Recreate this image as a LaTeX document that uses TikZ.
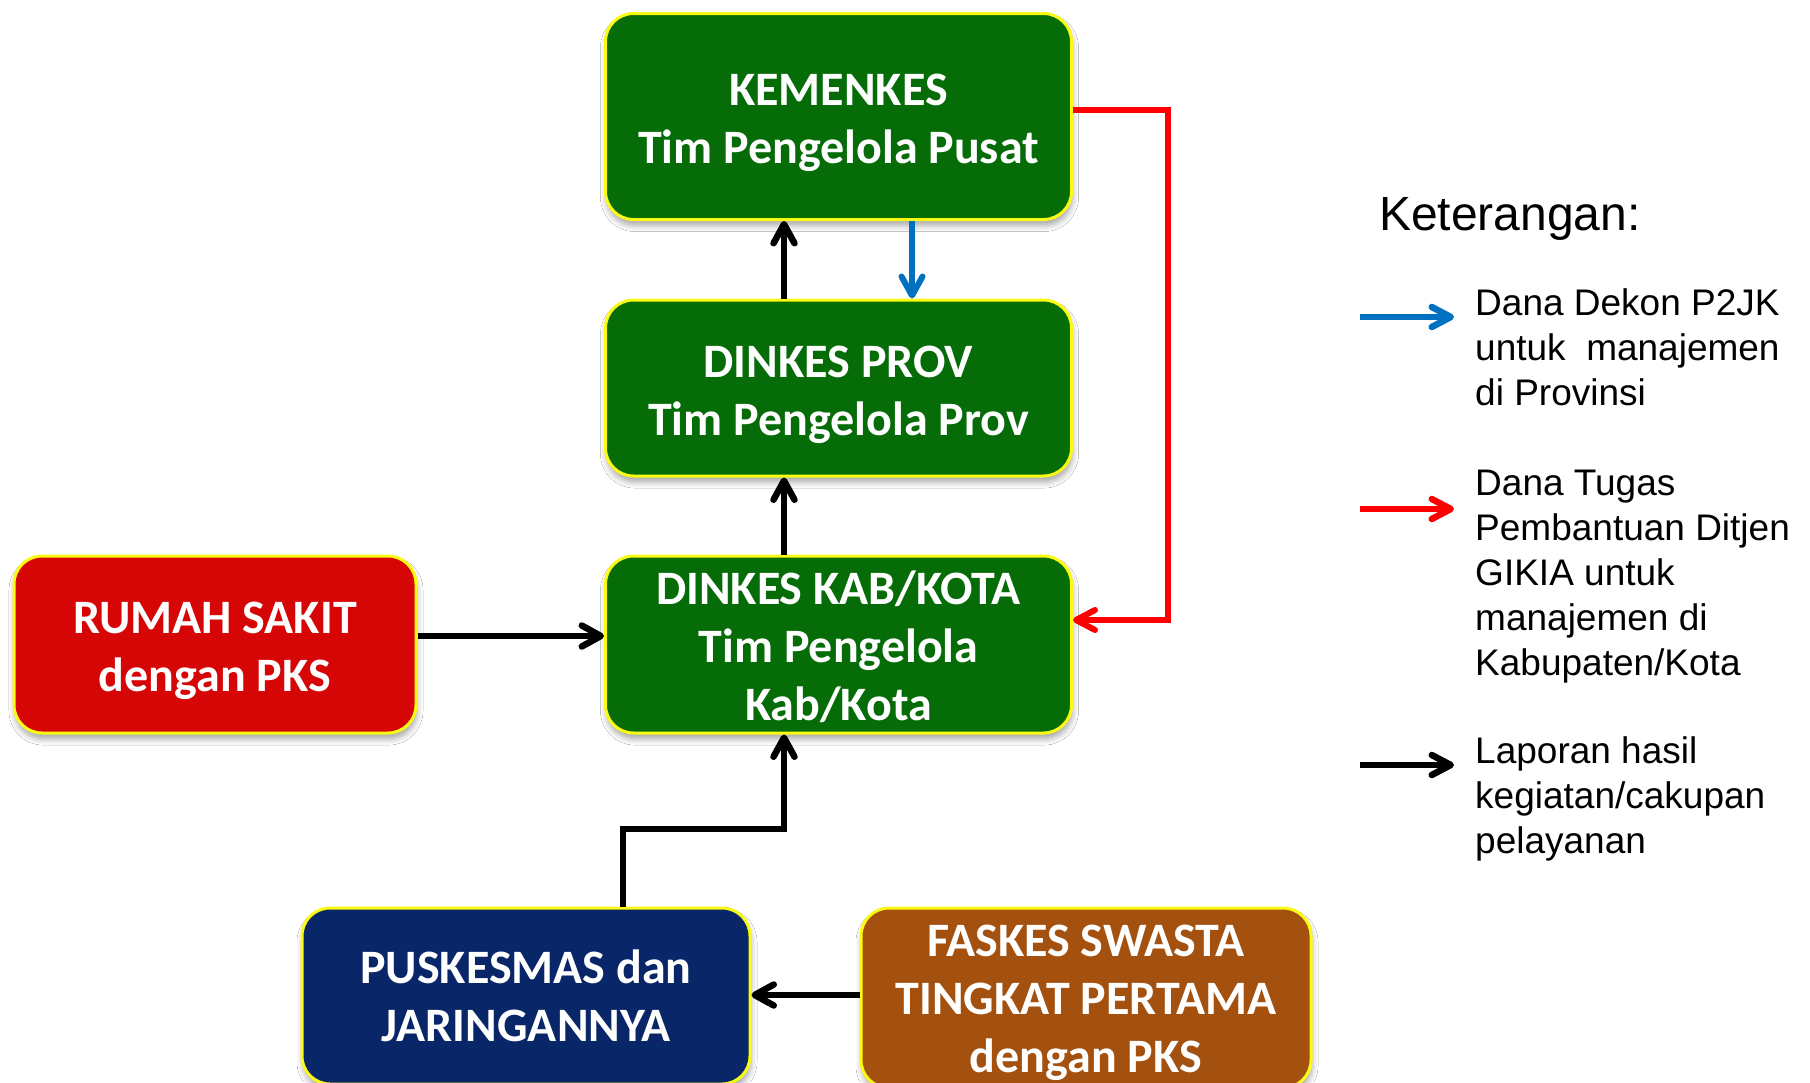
\documentclass[tikz,border=0pt]{standalone}
\usepackage{fontspec}
\setmainfont{Carlito}
\newfontfamily\legfont{Liberation Sans}
\usetikzlibrary{arrows.meta,shadows.blur,calc}
\definecolor{boxgreen}{RGB}{6,108,8}
\definecolor{boxred}{RGB}{214,6,6}
\definecolor{boxblue}{RGB}{8,38,104}
\definecolor{boxbrown}{RGB}{164,80,14}
\definecolor{edgeyellow}{RGB}{250,250,20}
\definecolor{arrowblue}{RGB}{0,112,192}
\definecolor{arrowred}{RGB}{255,0,0}
\begin{document}
\begin{tikzpicture}[x=1pt,y=-1pt,
  unit/.style={draw=edgeyellow, line width=3pt, rounded corners=28pt, inner sep=0pt,
    blur shadow={shadow xshift=1pt, shadow yshift=-6pt, shadow blur radius=6pt, shadow opacity=35}},
  unittext/.style={text=white, font=\fontsize{48}{58}\selectfont\bfseries, align=center, inner sep=0pt},
  report/.style={line width=6.5pt, draw=black, -{Straight Barb[round,length=19pt,width=21pt]}},
  dekon/.style={line width=6pt, draw=arrowblue, -{Straight Barb[round,length=19pt,width=21pt]}},
  tugas/.style={line width=6pt, draw=arrowred, -{Straight Barb[round,length=19pt,width=20pt]}},
  legreport/.style={line width=6.5pt, draw=black, -{Straight Barb[round,length=19pt,width=20pt]}},
  legdekon/.style={line width=6.5pt, draw=arrowblue, -{Straight Barb[round,length=19pt,width=20pt]}},
  legtugas/.style={line width=6.5pt, draw=arrowred, -{Straight Barb[round,length=19pt,width=20pt]}},
  legtitle/.style={font=\legfont\fontsize{48}{56}\selectfont, inner sep=0pt},
  legtext/.style={font=\legfont\fontsize{37}{45}\selectfont, align=left, inner sep=0pt}
]
\useasboundingbox (0,0) rectangle (1810,1082);
\clip (0,0) rectangle (1810,1082);
\fill[white] (0,0) rectangle (1810,1082);

% boxes
\node[unit, fill=boxgreen, minimum width=466pt, minimum height=206pt] (kem) at (838.5,116.5) {};
\node[unit, fill=boxgreen, minimum width=466pt, minimum height=176pt] (prov) at (838.5,388) {};
\node[unit, fill=boxgreen, minimum width=466pt, minimum height=177pt] (kab) at (838.5,644.5) {};
\node[unit, fill=boxred, minimum width=402pt, minimum height=177pt] (rs) at (215,644.5) {};
\node[unit, fill=boxblue, minimum width=448pt, minimum height=176pt] (pusk) at (526,996) {};
\node[unit, fill=boxbrown, minimum width=450pt, minimum height=180pt] (fask) at (1086,998) {};

% box texts
\node[unittext] (kemt) at ([yshift=-6pt]kem.center) {KEMENKES\\Tim Pengelola Pusat};
\node[unittext] (provt) at ([yshift=-7pt]prov.center) {DINKES PROV\\Tim Pengelola Prov};
\node[unittext] (kabt) at ([yshift=-2pt]kab.center) {DINKES KAB/KOTA\\Tim Pengelola\\Kab/Kota};
\node[unittext] (rst) at ([yshift=-6pt]rs.center) {RUMAH SAKIT\\dengan PKS};
\node[unittext] (puskt) at (pusk.center) {PUSKESMAS dan\\JARINGANNYA};
\node[unittext] (faskt) at ([yshift=-5pt]fask.center) {FASKES SWASTA\\TINGKAT PERTAMA\\dengan PKS};

% helper coordinates
\coordinate (colA) at (784,0);
\coordinate (colB) at (912,0);
\coordinate (colP) at (623,0);
\coordinate (rowR) at (0,636);
\coordinate (rowF) at (0,995);
\coordinate (elbow) at (784,829);
\coordinate (redtop) at (1168,110);
\coordinate (redbot) at (1168,620);

% connectors
\draw[report] (prov.north -| colA) -- (kem.south -| colA);
\draw[dekon] (kem.south -| colB) -- (prov.north -| colB);
\draw[report] (kab.north -| colA) -- (prov.south -| colA);
\draw[report] (rs.east |- rowR) -- (kab.west |- rowR);
\draw[report] (pusk.north -| colP) |- (elbow) -- (kab.south -| colA);
\draw[report] (fask.west |- rowF) -- (pusk.east |- rowF);
\draw[tugas] (kem.east |- redtop) -- (redtop) -- (redbot) -- (kab.east |- redbot);

% legend
\node[legtitle, anchor=west] (ket) at (1379,219) {Keterangan:};
\coordinate (lb1) at (1360,317); \coordinate (lb2) at (1454,317);
\coordinate (lr1) at (1360,509); \coordinate (lr2) at (1454,509);
\coordinate (lk1) at (1360,765); \coordinate (lk2) at (1454,765);
\draw[legdekon] (lb1) -- (lb2);
\draw[legtugas] (lr1) -- (lr2);
\draw[legreport] (lk1) -- (lk2);
\node[legtext, anchor=base west] (t1) at (1475,405) {Dana Dekon P2JK\\untuk\ \ manajemen\\di Provinsi};
\node[legtext, anchor=base west] (t2) at (1475,675) {Dana Tugas\\Pembantuan Ditjen\\GIKIA untuk\\manajemen di\\Kabupaten/Kota};
\node[legtext, anchor=base west] (t3) at (1475,853) {Laporan hasil\\kegiatan/cakupan\\pelayanan};
\end{tikzpicture}
\end{document}
